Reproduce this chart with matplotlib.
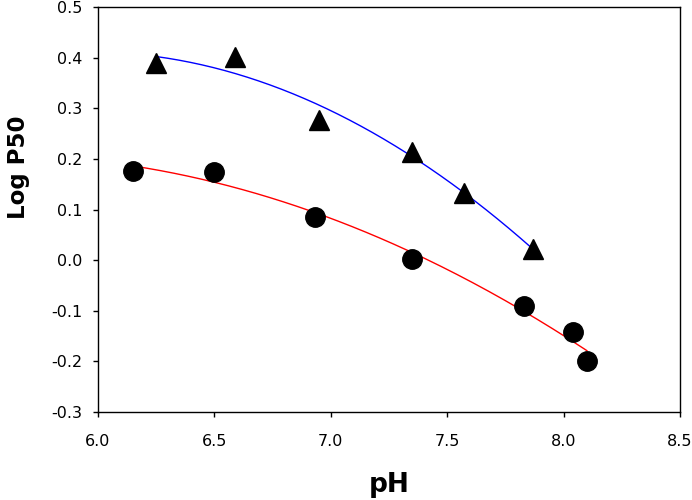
import numpy as np
import matplotlib
matplotlib.use('Agg')
import matplotlib.pyplot as plt

plt.rcParams['font.family'] = ['DejaVu Sans']

# triangles (upper series)
ph_tri = [6.25, 6.59, 6.95, 7.35, 7.57, 7.87]
logp_tri = [0.390, 0.402, 0.276, 0.214, 0.132, 0.022]

# circles (lower series)
ph_circ = [6.15, 6.50, 6.93, 7.35, 7.83, 8.04, 8.10]
logp_circ = [0.177, 0.174, 0.086, 0.003, -0.091, -0.141, -0.200]

x_ticks = [6.0, 6.5, 7.0, 7.5, 8.0, 8.5]
y_ticks = [-0.3, -0.2, -0.1, 0.0, 0.1, 0.2, 0.3, 0.4, 0.5]

fig = plt.figure(figsize=(6.92, 5.0), dpi=100)
ax = fig.add_axes([0.1416, 0.176, 0.8411, 0.810])

# quadratic regression lines through each series
for xs, ys, col in [(ph_tri, logp_tri, 'blue'), (ph_circ, logp_circ, 'red')]:
    coef = np.polyfit(xs, ys, 2)
    xx = np.linspace(min(xs), max(xs), 200)
    ax.plot(xx, np.polyval(coef, xx), color=col, linewidth=1, zorder=2)

ax.plot(ph_tri, logp_tri, linestyle='none', marker='^', color='black',
        markersize=14.5, zorder=3)
ax.plot(ph_circ, logp_circ, linestyle='none', marker='o', color='black',
        markersize=14, zorder=3)

ax.set_xlim(6.0, 8.5)
ax.set_ylim(-0.3, 0.5)
ax.set_xticks(x_ticks)
ax.set_yticks(y_ticks)
ax.set_xticklabels(['%.1f' % v for v in x_ticks])
ax.set_yticklabels(['%.1f' % v for v in y_ticks])
ax.tick_params(direction='out', length=3.5, width=1, labelsize=11.5)
ax.tick_params(axis='x', pad=12)
ax.tick_params(axis='y', pad=8)
for s in ax.spines.values():
    s.set_linewidth(1)

ax.set_xlabel('pH', fontsize=19, fontweight='bold', va='baseline')
ax.xaxis.set_label_coords(0.5, -0.197)
ax.set_ylabel('Log P50', fontsize=16.5, fontweight='bold', va='center')
ax.yaxis.set_label_coords(-0.136, 0.605)

fig.savefig('out.png', dpi=100)
